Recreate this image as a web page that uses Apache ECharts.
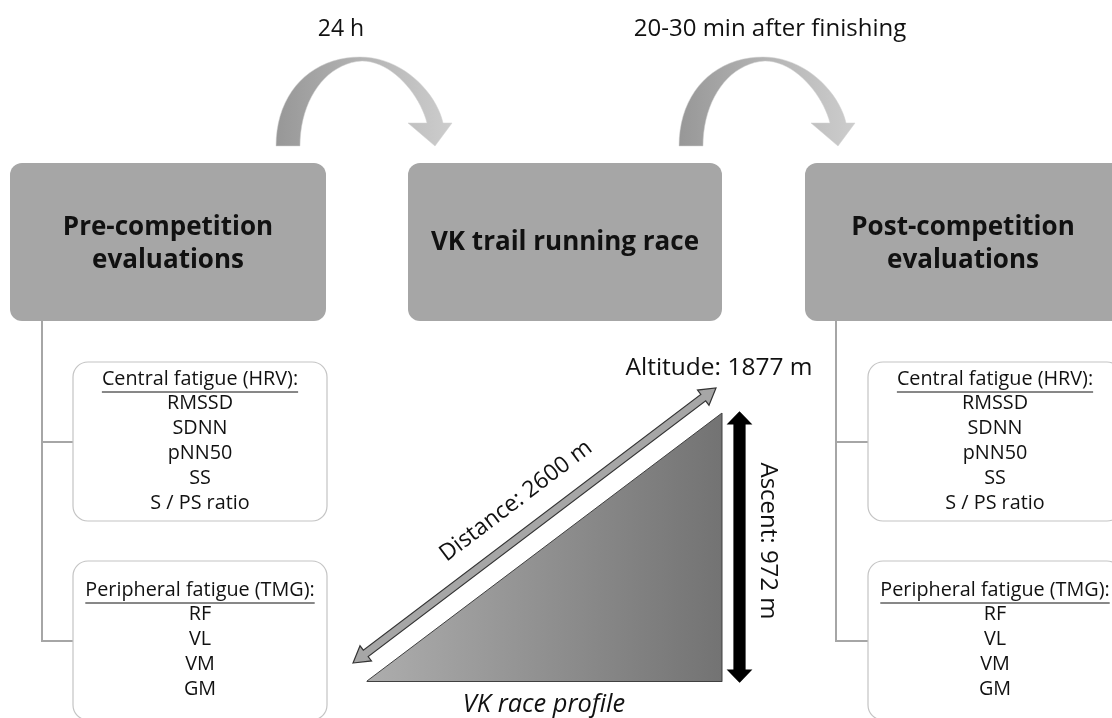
<!DOCTYPE html>
<html>
<head>
<meta charset="utf-8">
<script src="https://cdn.jsdelivr.net/npm/echarts@6/dist/echarts.min.js"></script>
<style>
  html, body { margin: 0; padding: 0; background: #fff; }
  #chartmain { width: 1112px; height: 718px; }
</style>
</head>
<body>
<div id="chartmain"></div>
<script>
// diagram content
var stageNames = ["Pre-competition\nevaluations", "VK trail running race", "Post-competition\nevaluations"];
var gapLabels = ["24 h", "20-30 min after finishing"];
var hrvTitle = "Central fatigue (HRV):";
var hrvItems = ["RMSSD", "SDNN", "pNN50", "SS", "S / PS ratio"];
var tmgTitle = "Peripheral fatigue (TMG):";
var tmgItems = ["RF", "VL", "VM", "GM"];
var distanceM = 2600; // along the slope
var ascentM = 972;
var altitudeM = 1877;
var profileLabel = "VK race profile";

var FONT = "'Open Sans', sans-serif";
var boxGray = "#a6a6a6";
var lineGray = "#a6a6a6";

// horizontal run of the race profile (right triangle)
var runM = Math.round(Math.sqrt(distanceM * distanceM - ascentM * ascentM));
var profileX = [0, runM, runM];
var profileY = [0, ascentM, 0];

function textWidth(str, font) {
  var c = document.createElement("canvas").getContext("2d");
  c.font = font;
  return c.measureText(str).width;
}

function txt(str, x, y, size, opts) {
  opts = opts || {};
  return {
    type: "text",
    x: x,
    y: y,
    rotation: opts.rotation || 0,
    z: 10,
    style: {
      text: str,
      fill: opts.color || "#111",
      font: (opts.italic ? "italic " : "") + (opts.bold ? "bold " : "") + size + "px " + FONT,
      align: "center",
      verticalAlign: "middle",
      textAlign: "center",
      textVerticalAlign: "middle",
      lineHeight: opts.lineHeight || size * 1.2
    }
  };
}

// sample cubic bezier
function bez(p0, p1, p2, p3, n) {
  var pts = [];
  for (var i = 0; i <= n; i++) {
    var t = i / n, u = 1 - t;
    pts.push([
      u * u * u * p0[0] + 3 * u * u * t * p1[0] + 3 * u * t * t * p2[0] + t * t * t * p3[0],
      u * u * u * p0[1] + 3 * u * u * t * p1[1] + 3 * u * t * t * p2[1] + t * t * t * p3[1]
    ]);
  }
  return pts;
}

// curved "next step" arrow, dx = horizontal offset
function curvedArrow(dx) {
  function s(p) { return [p[0] + dx, p[1]]; }
  var outer = bez(s([276, 146]), s([276, 92]), s([312, 57]), s([360, 57]), 20)
    .concat(bez(s([360, 57]), s([402, 57]), s([436, 92]), s([443, 123]), 20));
  var inner = bez(s([300, 146]), s([300, 100]), s([326, 63]), s([362, 61]), 20)
    .concat(bez(s([362, 61]), s([392, 61]), s([420, 95]), s([427, 123]), 20));
  var pts = outer.concat([s([452, 123]), s([435, 146]), s([408, 123])]).concat(inner.reverse());
  return {
    type: "polygon",
    z: 5,
    shape: { points: pts },
    style: {
      fill: {
        type: "linear", x: 0, y: 0, x2: 1, y2: 0,
        colorStops: [
          { offset: 0, color: "#979797" },
          { offset: 0.5, color: "#b4b4b4" },
          { offset: 1, color: "#cdcdcd" }
        ]
      },
      stroke: "#d0d0d0",
      lineWidth: 0.5
    }
  };
}

// straight double-headed arrow polygon between a and b
function straightArrow(a, b, headL, headW, shaftW, fill, stroke) {
  var dx = b[0] - a[0], dy = b[1] - a[1];
  var len = Math.sqrt(dx * dx + dy * dy);
  var ux = dx / len, uy = dy / len, nx = -uy, ny = ux;
  function p(s, t) { return [a[0] + ux * s + nx * t, a[1] + uy * s + ny * t]; }
  var loc = [[0, 0], [headL, headW], [headL, shaftW], [len - headL, shaftW], [len - headL, headW], [len, 0],
    [len - headL, -headW], [len - headL, -shaftW], [headL, -shaftW], [headL, -headW]];
  return {
    type: "polygon",
    z: 6,
    shape: { points: loc.map(function(q) { return p(q[0], q[1]); }) },
    style: { fill: fill, stroke: stroke, lineWidth: 1.2 }
  };
}

var elements = [];

// stage boxes
var boxX = [10, 408, 805];
var boxW = [316, 314, 330];
for (var i = 0; i < stageNames.length; i++) {
  elements.push({
    type: "rect",
    z: 1,
    shape: { x: boxX[i], y: 163, width: boxW[i], height: 158, r: 12 },
    style: { fill: boxGray }
  });
  var cx = boxX[i] + (i === 2 ? 158 : boxW[i] / 2);
  elements.push(txt(stageNames[i], cx, i === 1 ? 243 : 244, 26, { bold: true, lineHeight: 33, color: "#111" }));
}

// curved arrows + time labels
elements.push(curvedArrow(0));
elements.push(curvedArrow(403));
elements.push(txt(gapLabels[0], 341, 29, 23));
elements.push(txt(gapLabels[1], 770, 29, 24));

// evaluation detail boxes (left + right columns)
var colX = [73, 868];
var stemX = [42, 836];
for (var c = 0; c < 2; c++) {
  var bx = colX[c], mid = bx + 127;
  // connector lines
  elements.push({ type: "polyline", z: 2, shape: { points: [[stemX[c], 321], [stemX[c], 641], [bx, 641]] },
    style: { stroke: lineGray, lineWidth: 2, fill: null } });
  elements.push({ type: "line", z: 2, shape: { x1: stemX[c], y1: 442, x2: bx, y2: 442 },
    style: { stroke: lineGray, lineWidth: 2 } });
  // boxes
  elements.push({ type: "rect", z: 3, shape: { x: bx, y: 362, width: 254, height: 159, r: 15 },
    style: { fill: "#fff", stroke: "#c4c4c4", lineWidth: 1.2 } });
  elements.push({ type: "rect", z: 3, shape: { x: bx, y: 561, width: 254, height: 159, r: 15 },
    style: { fill: "#fff", stroke: "#c4c4c4", lineWidth: 1.2 } });

  var f = 19.8;
  var w1 = textWidth(hrvTitle, f + "px " + FONT);
  elements.push(txt(hrvTitle, mid, 379, f));
  elements.push({ type: "line", z: 10, shape: { x1: mid - w1 / 2, y1: 392, x2: mid + w1 / 2, y2: 392 },
    style: { stroke: "#111", lineWidth: 1 } });
  for (var k = 0; k < hrvItems.length; k++) {
    elements.push(txt(hrvItems[k], mid, 403 + k * 25, f));
  }
  var w2 = textWidth(tmgTitle, f + "px " + FONT);
  elements.push(txt(tmgTitle, mid, 590, f));
  elements.push({ type: "line", z: 10, shape: { x1: mid - w2 / 2, y1: 603, x2: mid + w2 / 2, y2: 603 },
    style: { stroke: "#111", lineWidth: 1 } });
  for (var k2 = 0; k2 < tmgItems.length; k2++) {
    elements.push(txt(tmgItems[k2], mid, 614 + k2 * 25, f));
  }
}

// race profile arrows and labels
elements.push(straightArrow([353, 663], [716, 388], 16, 9.5, 4, "#a6a6a6", "#333"));
elements.push(straightArrow([739.5, 682], [739.5, 412], 12, 11.5, 5.5, "#000", "#000"));
elements.push(txt("Distance: " + distanceM + " m", 516, 501, 23, { rotation: Math.atan2(275, 362) }));
elements.push(txt("Ascent: " + ascentM + " m", 768, 541, 24, { rotation: -Math.PI / 2 }));
elements.push(txt("Altitude: " + altitudeM + " m", 719, 368, 24.5));
elements.push(txt(profileLabel, 544, 705, 25.4, { italic: true }));

var option = {
  animation: false,
  backgroundColor: "#fff",
  grid: { left: 367, top: 413, width: 355, height: 268 },
  xAxis: {
    type: "value", min: 0, max: runM,
    axisLine: { show: true, lineStyle: { color: "#404040", width: 1 } },
    axisTick: { show: false }, axisLabel: { show: false }, splitLine: { show: false }
  },
  yAxis: {
    type: "value", min: 0, max: ascentM,
    axisLine: { show: false }, axisTick: { show: false }, axisLabel: { show: false }, splitLine: { show: false }
  },
  series: [{
    type: "line",
    symbol: "none",
    data: profileX.map(function(x, i) { return [x, profileY[i]]; }),
    lineStyle: { color: "#404040", width: 1 },
    areaStyle: {
      opacity: 1,
      color: {
        type: "linear", x: 0, y: 0, x2: 1, y2: 0,
        colorStops: [{ offset: 0, color: "#adadad" }, { offset: 1, color: "#737373" }]
      }
    }
  }],
  graphic: { elements: elements }
};

var myChart = echarts.init(document.getElementById("chartmain"));
myChart.setOption(option);
</script>
</body>
</html>
